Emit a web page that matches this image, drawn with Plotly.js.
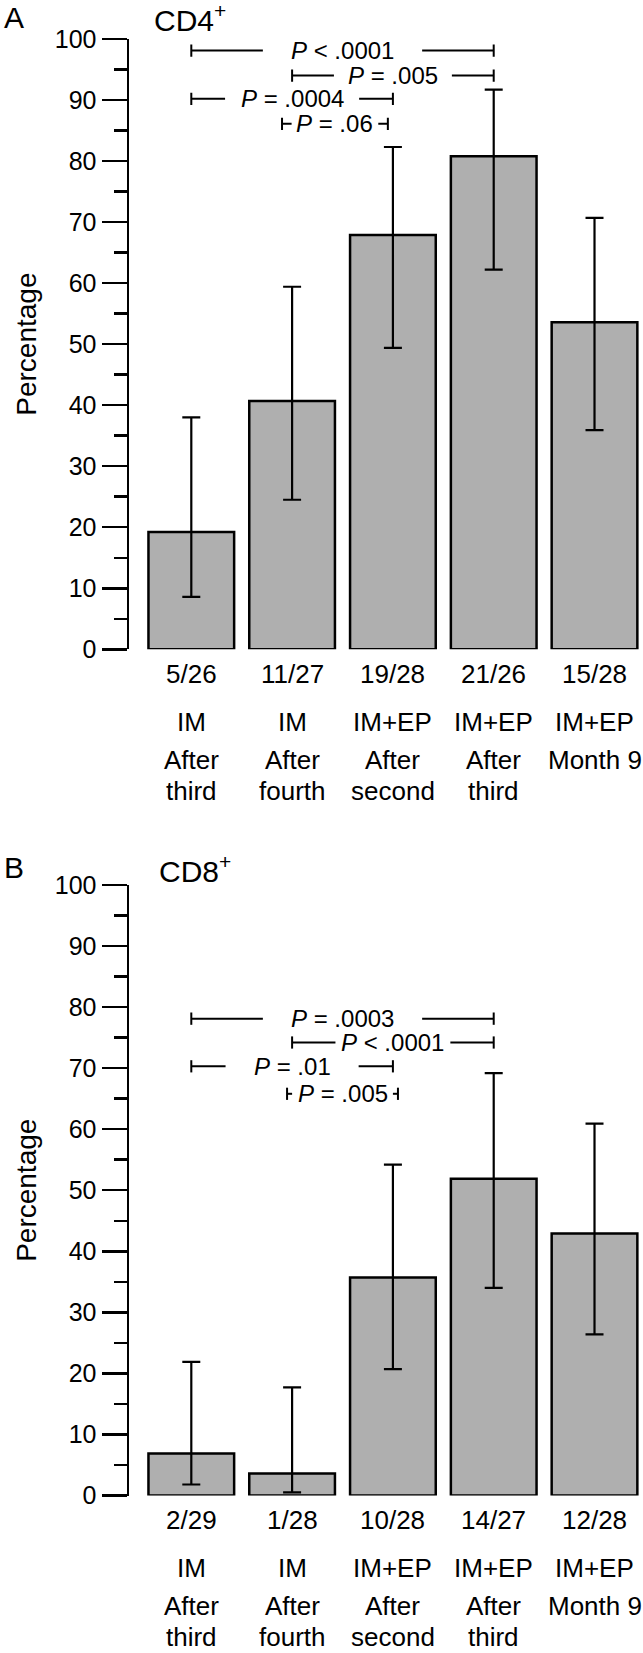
<!DOCTYPE html>
<html>
<head>
<meta charset="utf-8">
<script src="https://cdn.plot.ly/plotly-3.0.1.min.js"></script>
<style>html,body{margin:0;padding:0;background:#fff;}#chart{width:643px;height:1653px;}</style>
</head>
<body>
<div id="chart"></div>
<script>
// ---------- data ----------
const categoryIndex = [0, 1, 2, 3, 4];
const groupLabels   = ["IM", "IM", "IM+EP", "IM+EP", "IM+EP"];
const timingLine1   = ["After", "After", "After", "After", "Month 9"];
const timingLine2   = ["third", "fourth", "second", "third", ""];

const cd4Counts = ["5/26", "11/27", "19/28", "21/26", "15/28"];
const cd4Pct    = [19.2, 40.7, 67.9, 80.8, 53.6];
const cd4Lower  = [8.6, 24.5, 49.4, 62.2, 35.9];
const cd4Upper  = [38.0, 59.4, 82.3, 91.7, 70.7];

const cd8Counts = ["2/29", "1/28", "10/28", "14/27", "12/28"];
const cd8Pct    = [6.9, 3.6, 35.7, 51.9, 42.9];
const cd8Lower  = [1.8, 0.5, 20.7, 34.0, 26.4];
const cd8Upper  = [21.9, 17.7, 54.2, 69.2, 60.9];

// pairwise comparisons (bracket from/to category positions, height, label)
const cd4CmpFrom  = [0, 1, 0, 0.9];
const cd4CmpTo    = [3, 3, 2, 1.95];
const cd4CmpY     = [98.1, 94.0, 90.2, 86.1];
const cd4CmpLabel = ["<i>P</i> < .0001", "<i>P</i> = .005", "<i>P</i> = .0004", "<i>P</i> = .06"];

const cd8CmpFrom  = [0, 1, 0, 0.95];
const cd8CmpTo    = [3, 3, 2, 2.05];
const cd8CmpY     = [78.1, 74.2, 70.3, 65.8];
const cd8CmpLabel = ["<i>P</i> = .0003", "<i>P</i> < .0001", "<i>P</i> = .01", "<i>P</i> = .005"];

// ---------- style ----------
const FONT = "Liberation Sans, Arial, Helvetica, sans-serif";
const W = 643, H = 1653, ML = 129;
const cd4GapHalf = [0.79, 0.585, 0.665, 0.43];
const cd8GapHalf = [0.79, 0.57, 0.66, 0.50];
const rowShift = [24.5, 72.5, 111, 142];
const panelDomains = [[0.60720, 0.97641], [0.09528, 0.46461]];

const traces = [];
const shapes = [];
const annotations = [];
const layout = {
  width: W, height: H,
  margin: {l: ML, r: 0, t: 0, b: 0, pad: 0},
  paper_bgcolor: "#fff", plot_bgcolor: "#fff",
  showlegend: false,
  bargap: 0.15,
  font: {family: FONT, color: "#000"},
  shapes: shapes, annotations: annotations
};

function panel(k, counts, pct, lower, upper, cFrom, cTo, cY, cLab, gapHalf, letter, title, letterY, titleY, titleX) {
  const xn = k === 0 ? "x" : "x2";
  const yn = k === 0 ? "y" : "y2";
  traces.push({
    type: "bar", x: categoryIndex, y: pct, xaxis: xn, yaxis: yn,
    cliponaxis: false,
    marker: {color: "#afafaf", line: {color: "#000", width: 2.5}},
    error_y: {
      type: "data", symmetric: false,
      array: upper.map((u, i) => u - pct[i]),
      arrayminus: lower.map((l, i) => pct[i] - l),
      color: "#000", thickness: 2.2, width: 9
    },
    hoverinfo: "skip"
  });
  layout[k === 0 ? "xaxis" : "xaxis2"] = {
    domain: [0, 1], range: [-0.618, 4.481], anchor: yn,
    showgrid: false, zeroline: false, showline: false, showticklabels: false, ticks: "", fixedrange: true
  };
  layout[k === 0 ? "yaxis" : "yaxis2"] = {
    domain: panelDomains[k], range: [0, 100], anchor: xn,
    tickmode: "linear", tick0: 0, dtick: 10,
    ticks: "outside", ticklen: 25, tickwidth: 2.5, tickcolor: "#000",
    showline: true, linewidth: 2.5, linecolor: "#000",
    minor: {tickmode: "linear", tick0: 0, dtick: 5, ticks: "outside", ticklen: 12.5, tickwidth: 2.5, tickcolor: "#000", showgrid: false},
    showgrid: false, zeroline: false,
    tickfont: {family: FONT, size: 25, color: "#000"},
    title: {text: "Percentage", font: {family: FONT, size: 28, color: "#000"}, standoff: 10},
    fixedrange: true
  };
  // comparison brackets
  cFrom.forEach((f, i) => {
    const t = cTo[i], y = cY[i], mid = (f + t) / 2, g = gapHalf[i];
    const ln = {color: "#000", width: 2};
    shapes.push({type: "line", xref: xn, yref: yn, x0: f, x1: mid - g, y0: y, y1: y, line: ln});
    shapes.push({type: "line", xref: xn, yref: yn, x0: mid + g, x1: t, y0: y, y1: y, line: ln});
    shapes.push({type: "line", xref: xn, yref: yn, x0: f, x1: f, y0: y - 1, y1: y + 1, line: ln});
    shapes.push({type: "line", xref: xn, yref: yn, x0: t, x1: t, y0: y - 1, y1: y + 1, line: ln});
    annotations.push({xref: xn, yref: yn, x: mid, y: y, text: cLab[i], showarrow: false, borderpad: 0,
      xanchor: "center", yanchor: "middle", font: {family: FONT, size: 24, color: "#000"}});
  });
  // category labels under bars
  const rows = [counts, groupLabels, timingLine1, timingLine2];
  rows.forEach((row, r) => {
    row.forEach((txt, i) => {
      if (!txt) return;
      annotations.push({xref: xn, yref: yn, x: categoryIndex[i], y: 0, yshift: -rowShift[r], text: txt,
        showarrow: false, xanchor: "center", yanchor: "middle", font: {family: FONT, size: 26, color: "#000"}});
    });
  });
  // panel letter and title
  annotations.push({xref: "paper", yref: "paper", x: (3 - ML) / (W - ML), y: letterY, text: letter,
    showarrow: false, xanchor: "left", yanchor: "top", borderpad: 0, font: {family: FONT, size: 30, color: "#000"}});
  annotations.push({xref: "paper", yref: "paper", x: (titleX - ML) / (W - ML), y: titleY, text: title,
    showarrow: false, xanchor: "left", yanchor: "middle", font: {family: FONT, size: 30, color: "#000"}});
}

panel(0, cd4Counts, cd4Pct, cd4Lower, cd4Upper, cd4CmpFrom, cd4CmpTo, cd4CmpY, cd4CmpLabel, cd4GapHalf,
      "A", "CD4<sup>+</sup>", 1, 1 - 18 / H, 152);
panel(1, cd8Counts, cd8Pct, cd8Lower, cd8Upper, cd8CmpFrom, cd8CmpTo, cd8CmpY, cd8CmpLabel, cd8GapHalf,
      "B", "CD8<sup>+</sup>", 1 - 850 / H, 1 - 869 / H, 157);

Plotly.newPlot("chart", traces, layout, {staticPlot: true, displayModeBar: false});
</script>
</body>
</html>
